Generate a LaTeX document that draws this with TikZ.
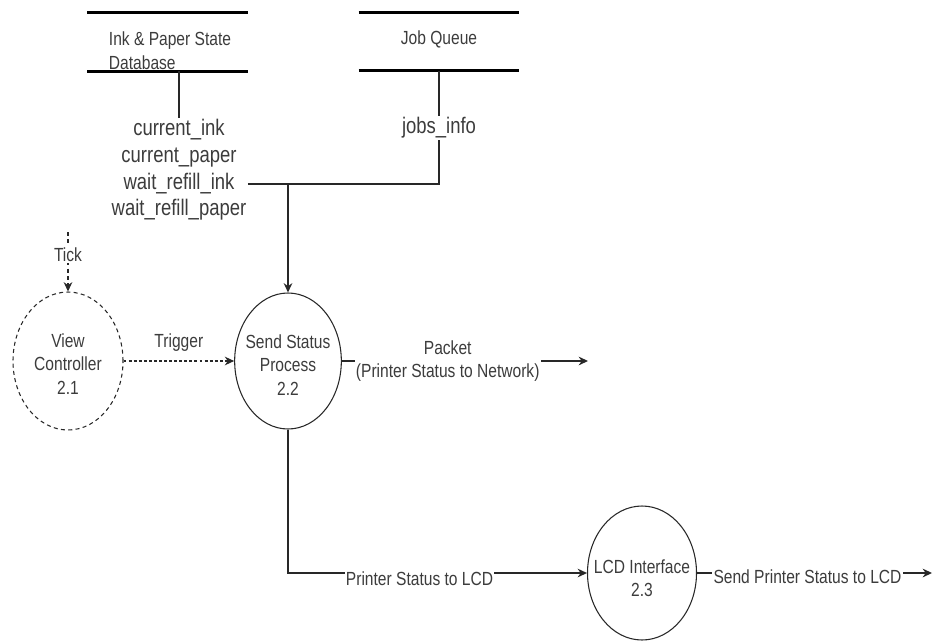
\documentclass[tikz,border=0pt]{standalone}
\usepackage{fontspec}
\setmainfont{Liberation Sans}[FakeStretch=0.82]
\usepackage{tikz}
\usetikzlibrary{arrows.meta,positioning,shapes.geometric}
\definecolor{linegray}{RGB}{40,40,40}
\definecolor{textgray}{RGB}{60,60,60}

\begin{document}
\begin{tikzpicture}[
    x=0.75pt, y=-0.75pt,
    lbl/.style={text=textgray, inner sep=1pt, font=\fontsize{14.25pt}{17.6pt}\selectfont},
    flowtxt/.style={text=textgray, inner sep=1pt, align=center, font=\fontsize{16.9pt}{20pt}\selectfont},
    store/.style={minimum width=120pt, minimum height=43.5pt, inner sep=0pt},
    storeline/.style={draw=black, line width=2.2pt},
    proc/.style={draw=linegray, ellipse, inner sep=0pt, line width=0.8pt, minimum width=80pt, minimum height=102pt},
    conn/.style={draw=linegray, line width=1.1pt},
    arr/.style={conn, -{Stealth[length=7pt, width=6.5pt]}},
    dasharr/.style={arr, line width=0.8pt, dash pattern=on 3pt off 2.5pt},
    dotarr/.style={arr, line width=1.6pt, dash pattern=on 2.2pt off 1.6pt}
]
\useasboundingbox (0,0) rectangle (937,642);

% data stores
\node[store] (db) at (167.5,42) {};
\node[store] (jq) at (439,41.5) {};
\draw[storeline] (db.north west) -- (db.north east);
\draw[storeline] (db.south west) -- (db.south east);
\draw[storeline] (jq.north west) -- (jq.north east);
\draw[storeline] (jq.south west) -- (jq.south east);
\node[lbl, align=left] (dbname) at (170,50.5) {Ink \& Paper State\\Database};
\node[lbl] (jqname) at (439,39) {Job Queue};

% data read from the stores
\node[flowtxt] (dbinfo) at (179,170) {current\_ink\\current\_paper\\wait\_refill\_ink\\wait\_refill\_paper};
\node[flowtxt] (jobs) at (439,128) {jobs\_info};

% processes
\node[proc, dashed, dash pattern=on 3pt off 2.5pt, minimum width=82.5pt, minimum height=103.5pt,
      label={[name=viewtxt, lbl, align=center, yshift=-2pt]center:View\\Controller\\2.1}] (view) at (68,361) {};
\node[proc, label={[name=sendtxt, lbl, align=center, yshift=-3pt]center:Send Status\\Process\\2.2}] (send) at (288,361) {};
\node[proc, minimum width=81.75pt, minimum height=100.5pt,
      label={[name=lcdtxt, lbl, align=center, yshift=-4pt]center:LCD Interface\\2.3}] (lcd) at (642,573) {};

\coordinate (tick) at (68,232);
\coordinate (join) at (288,184);
\coordinate (net) at (588,361);
\coordinate (lcdout) at (932,573);

% flows
\draw[conn] (dbinfo.north) -- (dbinfo.north |- db.south);
\draw[conn] (jobs.north) -- (jq.south);
\draw[conn] (dbinfo.east |- join) -- (join);
\draw[arr] (jobs.south) |- (join) -- (send.north);
\draw[dasharr] (tick) -- node[lbl, fill=white, pos=0.38] (ticklbl) {Tick} (view);
\draw[dotarr] (view) -- node[lbl, above=5pt] (triglbl) {Trigger} (send);
\draw[arr] (send) -- node[lbl, fill=white, align=center, pos=0.43] (pktlbl) {Packet\\(Printer Status to Network)} (net);
\draw[arr] (send) |- node[lbl, fill=white, pos=0.72, yshift=-4pt] (lcdlbl) {Printer Status to LCD} (lcd);
\draw[arr] (lcd) -- node[lbl, fill=white, pos=0.47, yshift=-3pt] (outlbl) {Send Printer Status to LCD} (lcdout);
\end{tikzpicture}
\end{document}
